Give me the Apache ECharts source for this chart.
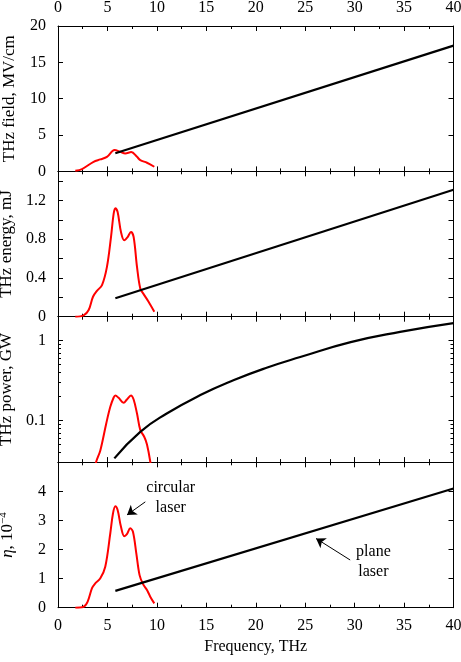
<!DOCTYPE html>
<html>
<head>
<meta charset="utf-8">
<script src="https://cdn.jsdelivr.net/npm/echarts@6/dist/echarts.min.js"></script>
<style>
  html, body { margin: 0; padding: 0; background: #fff; }
  #chart { width: 461px; height: 662px; }
</style>
</head>
<body>
<div id="chart"></div>
<script>
// data: [frequency THz, value]
var fieldRed = [[1.75, 0.08], [2.43, 0.32], [3.6, 1.32], [4.28, 1.65], [4.95, 2.0], [5.72, 2.93],
  [6.3, 2.7], [6.8, 2.47], [7.41, 2.66], [7.99, 2.0], [8.32, 1.55], [9.0, 1.19], [9.74, 0.64]];
var fieldBlack = [[5.8, 2.5], [40, 17.3]];

var energyRed = [[1.75, 0], [2.59, 0.014], [3.1, 0.069], [3.54, 0.206], [3.94, 0.267], [4.45, 0.326],
  [4.95, 0.514], [5.36, 0.822], [5.63, 1.063], [5.8, 1.12], [6.03, 1.08], [6.37, 0.874], [6.7, 0.788],
  [7.04, 0.822], [7.38, 0.874], [7.65, 0.822], [7.99, 0.514], [8.32, 0.292], [8.66, 0.233],
  [9.16, 0.154], [9.74, 0.051]];
var energyBlack = [[5.8, 0.19], [40, 1.31]];

var powerRed = [[3.6, 0.02], [3.84, 0.0297], [4.28, 0.042], [4.88, 0.0917], [5.29, 0.148], [5.63, 0.194],
  [5.8, 0.206], [6.13, 0.192], [6.64, 0.166], [6.97, 0.183], [7.38, 0.206], [7.65, 0.183], [7.99, 0.122],
  [8.32, 0.076], [8.73, 0.062], [9.0, 0.05], [9.33, 0.0305], [9.5, 0.02]];
var powerBlack = [[5.7, 0.0334], [8.32, 0.0719], [11.0, 0.122], [14.4, 0.208], [17.8, 0.321],
  [21.1, 0.458], [24.5, 0.624], [29.6, 0.96], [34.6, 1.29], [40, 1.66]];

var etaRed = [[1.75, 0], [2.59, 0.034], [3.0, 0.21], [3.44, 0.67], [3.77, 0.84], [4.28, 1.01], [4.78, 1.41],
  [5.29, 2.56], [5.56, 3.24], [5.8, 3.49], [6.03, 3.36], [6.37, 2.78], [6.7, 2.46], [6.97, 2.53],
  [7.31, 2.73], [7.58, 2.61], [7.92, 1.87], [8.25, 1.12], [8.6, 0.81], [9.0, 0.61], [9.33, 0.38], [9.74, 0.15]];
var etaBlack = [[5.8, 0.58], [40, 4.1]];

// tick values
var fieldTicks = [0, 5, 10, 15, 20];
var energyTicks = [0, 0.2, 0.4, 0.6, 0.8, 1.0, 1.2, 1.4];
var energyLabels = [0, 0.4, 0.8, 1.2];
var powerTicks = [0.1, 1];
var powerMinor = [0.04, 0.05, 0.06, 0.07, 0.08, 0.09, 0.2, 0.3, 0.4, 0.5, 0.6, 0.7, 0.8, 0.9];
var etaTicks = [0, 1, 2, 3, 4];

var FONT = 'Liberation Serif';
var TOPS = [26, 171.3, 316.7, 462.3];
var H = 145.4;

var panels = [
  { name: 'THz field, MV/cm', type: 'value', min: 0, max: 20, ticks: fieldTicks, labels: fieldTicks, red: fieldRed, black: fieldBlack },
  { name: 'THz energy, mJ', type: 'value', min: 0, max: 1.5, ticks: energyTicks, labels: energyLabels, red: energyRed, black: energyBlack },
  { name: 'THz power, GW', type: 'log', min: 0.03, max: 2, ticks: powerTicks, labels: powerTicks, minor: powerMinor, red: powerRed, black: powerBlack, smoothBlack: true },
  { name: '{i|η}{n|, 10}{s|−4}', type: 'value', min: 0, max: 5, ticks: etaTicks, labels: etaTicks, red: etaRed, black: etaBlack }
];

var textStyle = { fontFamily: FONT, fontSize: 16, color: '#000' };
var black = { color: '#000', width: 1 };

var grids = [], xAxes = [], yAxes = [], series = [];

panels.forEach(function (p, i) {
  grids.push({ left: 58, width: 395.5, top: TOPS[i], height: H, outerBoundsMode: 'none' });

  ['bottom', 'top'].forEach(function (pos) {
    var labelOn = (pos === 'bottom' && i === 3) || (pos === 'top' && i === 0);
    xAxes.push({
      gridIndex: i, type: 'value', position: pos, min: 0, max: 40, interval: 5,
      axisLine: { onZero: false, lineStyle: black },
      axisTick: { inside: true, length: 5, lineStyle: black },
      minorTick: { show: true, splitNumber: 2, length: 3, lineStyle: black },
      splitLine: { show: false },
      axisLabel: Object.assign({ show: labelOn, margin: 10 }, textStyle),
      name: (pos === 'bottom' && i === 3) ? 'Frequency, THz' : '',
      nameLocation: 'middle', nameGap: 31,
      nameTextStyle: textStyle
    });
  });
  var xIdx = xAxes.length - 2;

  function yAxis(pos, ticks, len, withLabels, withLine) {
    var a = {
      gridIndex: i, type: p.type, position: pos, min: p.min, max: p.max,
      axisLine: { show: withLine, onZero: false, lineStyle: black },
      axisTick: { inside: true, length: len, lineStyle: black, customValues: ticks },
      splitLine: { show: false },
      axisLabel: Object.assign({ show: withLabels, margin: 12, customValues: p.labels }, textStyle)
    };
    if (p.type === 'log') a.logBase = 10;
    if (withLabels) {
      a.name = p.name;
      a.nameLocation = 'middle';
      a.nameGap = 40;
      a.nameTextStyle = {
        fontFamily: FONT, fontSize: 17, color: '#000',
        rich: {
          i: { fontFamily: FONT, fontSize: 17, fontStyle: 'italic', lineHeight: 20 },
          n: { fontFamily: FONT, fontSize: 17, lineHeight: 20 },
          s: { fontFamily: FONT, fontSize: 11, verticalAlign: 'top', lineHeight: 20 }
        }
      };
    }
    yAxes.push(a);
    return yAxes.length - 1;
  }
  var yIdx = yAxis('left', p.ticks, 5, true, true);
  yAxis('right', p.ticks, 5, false, true);
  if (p.minor) {
    yAxis('left', p.minor, 3, false, false);
    yAxis('right', p.minor, 3, false, false);
  }

  series.push({
    type: 'line', xAxisIndex: xIdx, yAxisIndex: yIdx, data: p.red,
    smooth: 0.35, showSymbol: false, clip: true,
    lineStyle: { color: '#ff0000', width: 2 }, itemStyle: { color: '#ff0000' }
  });
  var bl = {
    type: 'line', xAxisIndex: xIdx, yAxisIndex: yIdx, data: p.black,
    smooth: p.smoothBlack ? 0.5 : false, showSymbol: false, clip: true,
    lineStyle: { color: '#000', width: 2.2 }, itemStyle: { color: '#000' }
  };
  if (i === 3) {
    bl.markPoint = {
      symbol: 'circle', symbolSize: 1, itemStyle: { color: 'rgba(0,0,0,0)' }, silent: true,
      label: { show: true, position: 'inside', fontFamily: FONT, fontSize: 16, lineHeight: 20, color: '#000' },
      data: [
        { coord: [11.4, 3.77], label: { formatter: 'circular\nlaser' } },
        { coord: [31.9, 1.58], label: { formatter: 'plane\nlaser' } }
      ]
    };
    bl.markLine = {
      silent: true, symbol: ['none', 'arrow'], symbolSize: 9,
      lineStyle: { color: '#000', width: 1, type: 'solid' },
      itemStyle: { color: '#000' },
      label: { show: false },
      data: [
        [{ coord: [8.83, 3.64] }, { coord: [6.98, 3.19] }],
        [{ coord: [29.55, 1.64] }, { coord: [26.1, 2.38] }]
      ]
    };
  }
  series.push(bl);
});

var chart = echarts.init(document.getElementById('chart'));
chart.setOption({
  animation: false,
  backgroundColor: '#fff',
  grid: grids,
  xAxis: xAxes,
  yAxis: yAxes,
  series: series
});
</script>
</body>
</html>
